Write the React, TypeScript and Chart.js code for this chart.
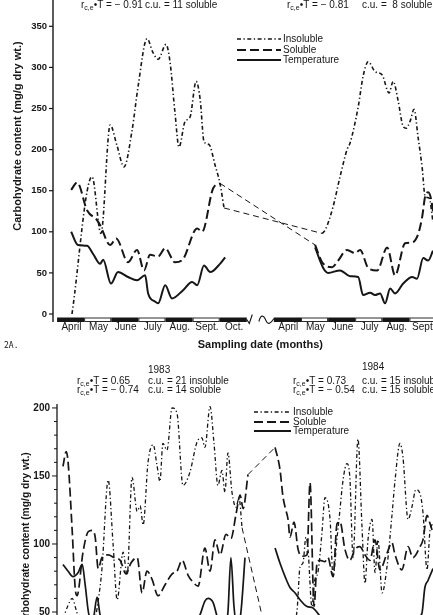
import React, { useEffect, useRef } from "react";
import { Chart, registerables } from "chart.js";

Chart.register(...registerables);

const INK = "#161616";
const SANS = '"Liberation Sans", Arial, Helvetica, sans-serif';

// Months are counted from 1 April. The second season of each panel is drawn
// after the axis break, BREAK_OFFSET months to the right of the first.
const BREAK_OFFSET = 8;

const LEGEND_LABELS = ["Insoluble", "Soluble", "Temperature"];

// ---------- Panel 2A ----------
const A_Y_TICKS = [0, 50, 100, 150, 200, 250, 300, 350];
const A_MONTHS_FIRST = ["April", "May", "June", "July", "Aug.", "Sept.", "Oct."];
const A_MONTHS_SECOND = ["April", "May", "June", "July", "Aug.", "Sept."];
const A_R_VALUES = ["\u2212 0.91", "\u2212 0.81"];
const A_CU_TEXT = ["c.u. = 11 soluble", "c.u. =  8 soluble"];

// first season
const A1_INSOL_MONTH = [0.55, 1.29, 1.62, 1.96, 2.21, 2.47, 2.77, 2.99, 3.32, 3.54, 3.73, 4.02, 4.17, 4.35, 4.5, 4.72, 4.91, 5.13, 5.28, 5.42, 5.61, 5.83, 6.01, 6.16];
const A1_INSOL = [0, 167, 98, 230, 205, 179, 224, 277, 335, 318, 310, 328, 306, 245, 203, 234, 240, 283, 261, 210, 206, 181, 159, 129];
const A1_SOL_MONTH = [0.52, 0.74, 1.11, 1.48, 1.59, 1.96, 2.18, 2.62, 2.95, 3.21, 3.43, 3.73, 3.99, 4.35, 4.65, 5.17, 5.35, 5.76, 6.01];
const A1_SOL = [151, 160, 126, 114, 108, 84, 92, 63, 78, 53, 72, 70, 80, 63, 67, 104, 100, 153, 159];
const A1_TEMP_MONTH = [0.52, 0.77, 1.11, 1.33, 1.59, 1.7, 1.99, 2.25, 2.62, 2.95, 3.25, 3.36, 3.62, 3.73, 3.99, 4.24, 4.65, 4.98, 5.17, 5.42, 5.65, 6.01, 6.2];
const A1_TEMP = [100, 84, 83, 73, 61, 66, 37, 51, 45, 41, 47, 25, 15, 13, 35, 19, 29, 39, 35, 59, 51, 61, 69];

// second season
const A2_INSOL_MONTH = [1.78, 1.89, 2.18, 2.44, 2.7, 2.81, 3.11, 3.29, 3.48, 3.73, 3.99, 4.25, 4.4, 4.58, 4.77, 4.88, 5.03, 5.17, 5.32, 5.47, 5.58, 5.73, 5.87];
const A2_INSOL = [98, 102, 130, 167, 200, 208, 252, 289, 307, 295, 291, 269, 283, 260, 228, 226, 235, 249, 215, 178, 143, 141, 112];
const A2_SOL_MONTH = [1.52, 1.78, 2.15, 2.37, 2.7, 3.0, 3.18, 3.48, 3.81, 4.18, 4.47, 4.84, 5.1, 5.32, 5.47, 5.58, 5.69, 5.8, 5.87];
const A2_SOL = [84, 63, 57, 65, 78, 74, 78, 56, 53, 81, 47, 86, 87, 97, 118, 143, 148, 140, 125];
const A2_TEMP_MONTH = [1.52, 1.82, 2.0, 2.44, 2.81, 3.11, 3.29, 3.55, 3.73, 3.92, 4.1, 4.29, 4.47, 4.77, 5.1, 5.28, 5.51, 5.69, 5.87];
const A2_TEMP = [81, 56, 50, 53, 46, 45, 23, 26, 23, 25, 13, 31, 25, 37, 45, 43, 68, 65, 77];

// ---------- Panel 1983 / 1984 ----------
const B_Y_LABELS = [50, 100, 150, 200];
const B_YEARS = ["1983", "1984"];
const B_R_VALUES = [["0.65", "\u2212 0.74"], ["0.73", "\u2212 0.54"]];
const B_CU_TEXT = [["c.u. = 21 insoluble", "c.u. = 14 soluble"], ["c.u. = 15 insoluble", "c.u. = 15 soluble"]];

// 1983
const B1_INSOL_MONTH = [0.18, 0.37, 0.52, 0.66, 0.81, 1.11, 1.33, 1.48, 1.62, 1.85, 2.03, 2.18, 2.4, 2.55, 2.73, 2.92, 3.03, 3.14, 3.32, 3.51, 3.65, 3.76, 3.87, 4.02, 4.21, 4.39, 4.61, 4.87, 5.13, 5.31, 5.42, 5.61, 5.76, 5.9, 6.05, 6.16, 6.27, 6.42, 6.57, 6.68, 6.79];
const B1_INSOL = [45, 55, 60, 52, 42, 36, 42, 58, 82, 147, 100, 59, 94, 77, 149, 124, 128, 114, 160, 173, 158, 146, 174, 169, 200, 196, 143, 153, 175, 178, 171, 201, 173, 143, 154, 138, 167, 138, 127, 134, 112];
const B1_SOL_MONTH = [0.18, 0.3, 0.37, 0.52, 0.63, 0.7, 0.92, 1.11, 1.25, 1.37, 1.48, 1.62, 1.85, 2.07, 2.29, 2.51, 2.69, 2.92, 3.1, 3.28, 3.47, 3.69, 3.95, 4.21, 4.39, 4.58, 4.8, 4.98, 5.17, 5.42, 5.61, 5.79, 5.98, 6.2, 6.38, 6.57, 6.72, 6.83, 7.01];
const B1_SOL = [157, 168, 160, 110, 68, 62, 94, 109, 110, 105, 82, 90, 92, 90, 88, 78, 86, 90, 64, 80, 74, 62, 70, 78, 80, 88, 77, 72, 69, 97, 80, 103, 92, 107, 104, 122, 136, 126, 151];
const B1_TEMP_MONTH = [0.18, 0.37, 0.55, 0.74, 0.89, 1.0, 1.14, 1.29, 1.44, 1.55, 1.77, 2.1, 2.47, 2.84, 3.21, 3.58, 3.95, 4.32, 4.69, 5.06, 5.24, 5.42, 5.54, 5.72, 5.9, 6.13, 6.27, 6.38, 6.49, 6.61, 6.75, 6.9];
const B1_TEMP = [85, 80, 76, 79, 85, 70, 48, 45, 61, 48, 40, 36, 32, 38, 34, 30, 36, 33, 38, 42, 48, 58, 60, 57, 45, 38, 50, 90, 55, 38, 50, 90];

// 1984
const B2_INSOL_MONTH = [0.01, 0.38, 0.82, 0.93, 1.04, 1.15, 1.23, 1.37, 1.48, 1.59, 1.74, 1.85, 2.04, 2.15, 2.3, 2.37, 2.52, 2.66, 2.77, 2.89, 3.07, 3.22, 3.33, 3.44, 3.59, 3.7, 3.81, 3.96, 4.14, 4.32, 4.44, 4.62, 4.73, 4.92, 5.06, 5.21, 5.36, 5.47, 5.62, 5.73, 5.84];
const B2_INSOL = [5, 25, 51, 83, 86, 105, 95, 54, 74, 79, 108, 134, 118, 76, 105, 118, 147, 159, 149, 90, 177, 112, 71, 103, 118, 79, 103, 64, 83, 120, 147, 174, 164, 118, 127, 140, 137, 123, 81, 110, 115];
const B2_SOL_MONTH = [0.01, 0.19, 0.3, 0.38, 0.49, 0.56, 0.71, 0.86, 1.0, 1.19, 1.3, 1.45, 1.56, 1.67, 1.85, 1.96, 2.15, 2.3, 2.41, 2.59, 2.77, 2.96, 3.14, 3.33, 3.51, 3.7, 3.88, 4.14, 4.32, 4.44, 4.69, 4.92, 5.1, 5.36, 5.47, 5.62, 5.73, 5.84];
const B2_SOL = [171, 155, 135, 127, 118, 105, 116, 96, 91, 92, 145, 54, 86, 88, 87, 90, 76, 115, 116, 96, 88, 96, 98, 92, 88, 103, 81, 93, 101, 92, 81, 98, 90, 98, 103, 121, 115, 108];
const B2_TEMP_MONTH = [0.01, 0.19, 0.38, 0.56, 0.75, 0.93, 1.19, 1.41, 1.59, 1.85, 2.41, 3.14, 3.88, 4.62, 5.17, 5.43, 5.54, 5.65, 5.84];
const B2_TEMP = [97, 86, 76, 68, 64, 59, 54, 53, 49, 42, 36, 33, 35, 38, 44, 49, 68, 73, 82];

// ---------- drawing styles ----------
type LineStyle = { width: number; dash: number[] };
const INSOL_STYLE: LineStyle = { width: 1.6, dash: [4, 2.5, 1.3, 2.5] };
const SOL_STYLE: LineStyle = { width: 2, dash: [9, 4] };
const TEMP_STYLE: LineStyle = { width: 2, dash: [] };
const BRIDGE_STYLE: LineStyle = { width: 1, dash: [6, 4] };
const LEGEND_STYLES = [INSOL_STYLE, SOL_STYLE, TEMP_STYLE];

type Pt = { x: number; y: number };
const pts = (months: number[], values: number[], shift = 0): Pt[] =>
  months.map((m, i) => ({ x: m + shift, y: values[i] }));
const bridge = (a: Pt[], b: Pt[]): Pt[] => [a[a.length - 1], b[0]];

function series(label: string, data: Pt[], style: LineStyle, smooth = true) {
  return {
    label,
    data,
    borderColor: INK,
    backgroundColor: INK,
    borderWidth: style.width,
    borderDash: style.dash,
    borderCapStyle: "butt",
    borderJoinStyle: "round",
    pointRadius: 0,
    pointHoverRadius: 0,
    fill: false,
    tension: smooth ? 0.4 : 0,
    cubicInterpolationMode: smooth ? "monotone" : "default",
  };
}

function seasonDatasets(
  ins1: Pt[], ins2: Pt[], sol1: Pt[], sol2: Pt[], tmp1: Pt[], tmp2: Pt[]
) {
  return [
    series("Insoluble", ins1, INSOL_STYLE),
    series("Insoluble", ins2, INSOL_STYLE),
    series("Insoluble gap", bridge(ins1, ins2), BRIDGE_STYLE, false),
    series("Soluble", sol1, SOL_STYLE),
    series("Soluble", sol2, SOL_STYLE),
    series("Soluble gap", bridge(sol1, sol2), BRIDGE_STYLE, false),
    series("Temperature", tmp1, TEMP_STYLE),
    series("Temperature", tmp2, TEMP_STYLE),
  ];
}

function line(ctx: CanvasRenderingContext2D, x0: number, y0: number, x1: number, y1: number) {
  ctx.beginPath();
  ctx.moveTo(x0, y0);
  ctx.lineTo(x1, y1);
  ctx.stroke();
}

function drawLegend(ctx: CanvasRenderingContext2D, x0: number, x1: number, rows: number[], textX: number) {
  ctx.font = `10px ${SANS}`;
  ctx.textAlign = "left";
  ctx.textBaseline = "middle";
  rows.forEach((y, i) => {
    const st = LEGEND_STYLES[i];
    ctx.lineWidth = st.width;
    ctx.setLineDash(st.dash);
    line(ctx, x0, y, x1, y);
    ctx.setLineDash([]);
    ctx.fillText(LEGEND_LABELS[i], textX, y);
  });
}

// "r(c,e)•T = value" with the c,e written as a subscript
function drawStat(ctx: CanvasRenderingContext2D, x: number, y: number, value: string) {
  ctx.textAlign = "left";
  ctx.textBaseline = "middle";
  ctx.font = `10px ${SANS}`;
  ctx.fillText("r", x, y);
  let cx = x + ctx.measureText("r").width;
  ctx.font = `7px ${SANS}`;
  ctx.fillText("c,e", cx, y + 3);
  cx += ctx.measureText("c,e").width;
  ctx.font = `10px ${SANS}`;
  ctx.fillText("\u2022T = " + value, cx, y);
}

function drawYTitle(ctx: CanvasRenderingContext2D, x: number, y: number, size: number) {
  ctx.save();
  ctx.translate(x, y);
  ctx.rotate(-Math.PI / 2);
  ctx.font = `bold ${size}px ${SANS}`;
  ctx.textAlign = "center";
  ctx.textBaseline = "middle";
  ctx.fillText("Carbohydrate content (mg/g dry wt.)", 0, 0);
  ctx.restore();
}

// Axes, month strip, legend and statistics of panel 2A
const panelADecor = {
  id: "panelADecor",
  afterDraw(chart: any) {
    const { ctx, chartArea: area } = chart;
    const x = chart.scales.x;
    const y = chart.scales.y;
    const zeroY = y.getPixelForValue(0);
    ctx.save();
    ctx.fillStyle = INK;
    ctx.strokeStyle = INK;
    ctx.setLineDash([]);

    // y axis
    ctx.lineWidth = 1.4;
    line(ctx, area.left, 0, area.left, zeroY + 8);
    ctx.font = `bold 9.5px ${SANS}`;
    ctx.textAlign = "right";
    ctx.textBaseline = "middle";
    for (const t of A_Y_TICKS) {
      const py = y.getPixelForValue(t);
      ctx.lineWidth = 1.2;
      line(ctx, area.left - 4, py, area.left, py);
      ctx.fillText(String(t), area.left - 6, py);
    }

    // month strip
    const barTop = zeroY + 3.5;
    const barH = 4.5;
    const seasons = [
      { shift: 0, labels: A_MONTHS_FIRST },
      { shift: BREAK_OFFSET, labels: A_MONTHS_SECOND },
    ];
    ctx.font = `10px ${SANS}`;
    ctx.textAlign = "center";
    for (const s of seasons) {
      s.labels.forEach((lab, i) => {
        const x0 = x.getPixelForValue(s.shift + i);
        const x1 = Math.min(x.getPixelForValue(s.shift + i + 1), area.right + 4);
        if (i % 2 === 0) {
          ctx.fillRect(x0, barTop, x1 - x0, barH);
        } else {
          ctx.lineWidth = 0.9;
          ctx.strokeRect(x0 + 0.5, barTop + 0.5, x1 - x0 - 1, barH - 1);
        }
        ctx.fillText(lab, x.getPixelForValue(s.shift + i + 0.53), zeroY + 13);
      });
    }

    // axis break marks
    const xb0 = x.getPixelForValue(A_MONTHS_FIRST.length);
    const xb1 = x.getPixelForValue(BREAK_OFFSET);
    const by = barTop + 2;
    ctx.lineWidth = 1.1;
    ctx.beginPath();
    ctx.moveTo(xb0, by);
    ctx.lineTo(xb0 + 2.5, by + 4);
    ctx.lineTo(xb0 + 5.5, by - 5);
    ctx.stroke();
    const w0 = xb1 - 15;
    ctx.beginPath();
    ctx.moveTo(w0, by + 2);
    ctx.bezierCurveTo(w0 + 2, by - 6, w0 + 5, by - 4, w0 + 7, by + 1);
    ctx.bezierCurveTo(w0 + 9, by + 6, w0 + 12, by + 4, w0 + 15, by - 1);
    ctx.stroke();

    // titles
    ctx.font = `bold 11px ${SANS}`;
    ctx.textAlign = "center";
    ctx.fillText("Sampling date (months)", x.getPixelForValue(7.5), 345);
    drawYTitle(ctx, 17.5, 136, 11);
    ctx.font = `8px "DejaVu Sans Mono", monospace`;
    ctx.textAlign = "left";
    ctx.fillText("2A.", 4, 346);

    // legend
    drawLegend(ctx, 237, 281, [39, 50, 60], 283);

    // correlation statistics
    const cols = [[81, 145], [287, 362]];
    cols.forEach(([rx, cx], i) => {
      drawStat(ctx, rx, 5, A_R_VALUES[i]);
      ctx.font = `10px ${SANS}`;
      ctx.fillText(A_CU_TEXT[i], cx, 5);
    });
    ctx.restore();
  },
};

// Axes, legend and statistics of the 1983/1984 panel
const panelBDecor = {
  id: "panelBDecor",
  afterDraw(chart: any) {
    const { ctx, chartArea: area } = chart;
    const y = chart.scales.y;
    ctx.save();
    ctx.fillStyle = INK;
    ctx.strokeStyle = INK;
    ctx.setLineDash([]);

    ctx.lineWidth = 1.3;
    line(ctx, area.left, area.top, area.left, area.bottom + 2);
    for (let t = 50; t <= 200; t += 10) {
      const py = y.getPixelForValue(t);
      ctx.lineWidth = 1;
      line(ctx, area.left - (t % 50 === 0 ? 5 : 3), py, area.left, py);
    }
    ctx.font = `bold 10px ${SANS}`;
    ctx.textAlign = "right";
    ctx.textBaseline = "middle";
    for (const t of B_Y_LABELS) {
      ctx.fillText(String(t), area.left - 7, y.getPixelForValue(t));
    }
    drawYTitle(ctx, 26, 186, 10.3);

    drawLegend(ctx, 254, 291, [57, 67, 76], 293);

    const cols = [[77, 148], [293, 362]];
    cols.forEach(([rx, cx], i) => {
      ctx.font = `10px ${SANS}`;
      ctx.textAlign = "left";
      ctx.fillText(B_YEARS[i], cx, i === 0 ? 15 : 12);
      [26, 35].forEach((ry, j) => {
        drawStat(ctx, rx, ry, B_R_VALUES[i][j]);
        ctx.font = `10px ${SANS}`;
        ctx.fillText(B_CU_TEXT[i][j], cx, ry);
      });
    });
    ctx.restore();
  },
};

function baseOptions(padding: any, xMin: number, xMax: number, yMin: number, yMax: number) {
  return {
    animation: false,
    responsive: false,
    devicePixelRatio: 1,
    events: [],
    layout: { padding },
    plugins: { legend: { display: false }, tooltip: { enabled: false } },
    scales: {
      x: { type: "linear", display: false, min: xMin, max: xMax },
      y: { type: "linear", display: false, min: yMin, max: yMax },
    },
  };
}

function buildPanelA() {
  const ins1 = pts(A1_INSOL_MONTH, A1_INSOL);
  const ins2 = pts(A2_INSOL_MONTH, A2_INSOL, BREAK_OFFSET);
  const sol1 = pts(A1_SOL_MONTH, A1_SOL);
  const sol2 = pts(A2_SOL_MONTH, A2_SOL, BREAK_OFFSET);
  const tmp1 = pts(A1_TEMP_MONTH, A1_TEMP);
  const tmp2 = pts(A2_TEMP_MONTH, A2_TEMP, BREAK_OFFSET);
  return {
    type: "line",
    data: { datasets: seasonDatasets(ins1, ins2, sol1, sol2, tmp1, tmp2) },
    options: baseOptions({ left: 53, right: 0, top: 0, bottom: 41 }, -0.15, 13.87, 0, 382),
    plugins: [panelADecor],
  };
}

function buildPanelB() {
  const ins1 = pts(B1_INSOL_MONTH, B1_INSOL);
  const ins2 = pts(B2_INSOL_MONTH, B2_INSOL, BREAK_OFFSET);
  const sol1 = pts(B1_SOL_MONTH, B1_SOL);
  const sol2 = pts(B2_SOL_MONTH, B2_SOL, BREAK_OFFSET);
  const tmp1 = pts(B1_TEMP_MONTH, B1_TEMP);
  const tmp2 = pts(B2_TEMP_MONTH, B2_TEMP, BREAK_OFFSET);
  const datasets = seasonDatasets(ins1, ins2, sol1, sol2, tmp1, tmp2).map((d) =>
    d.borderWidth > 1 ? { ...d, borderWidth: d.borderWidth - 0.3 } : d
  );
  return {
    type: "line",
    data: { datasets },
    options: baseOptions({ left: 57, right: 0, top: 49, bottom: 0 }, -0.04, 13.84, 47.8, 202.9),
    plugins: [panelBDecor],
  };
}

function ChartCanvas({ width, height, top, build }: { width: number; height: number; top: number; build: () => any }) {
  const ref = useRef<HTMLCanvasElement>(null);
  useEffect(() => {
    const chart = new Chart(ref.current as HTMLCanvasElement, build());
    return () => chart.destroy();
  }, [build]);
  return (
    <canvas
      ref={ref}
      width={width}
      height={height}
      style={{ position: "absolute", left: 0, top, width, height }}
    />
  );
}

export default function App() {
  return (
    <div
      style={{
        position: "fixed",
        left: 0,
        top: 0,
        width: 433,
        height: 615,
        overflow: "hidden",
        background: "#ffffff",
      }}
    >
      <ChartCanvas width={433} height={355} top={0} build={buildPanelA} />
      <ChartCanvas width={433} height={260} top={355} build={buildPanelB} />
    </div>
  );
}
